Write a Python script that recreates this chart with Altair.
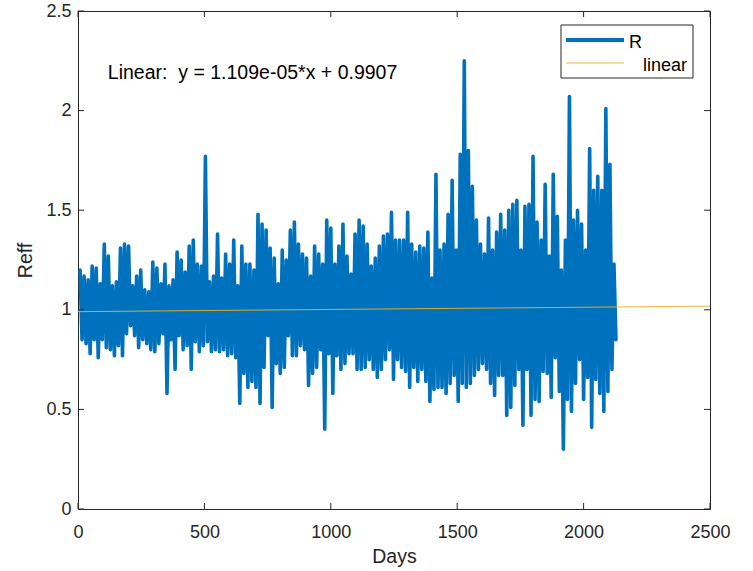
import altair as alt
import pandas as pd

# ---- data -------------------------------------------------------------
start_day = 8
step_days = 16
# local maxima (top of each ~16-day column) of R
peaks = [
    1.20, 1.17, 1.15, 1.22, 1.21, 1.13, 1.33, 1.27, 1.12, 1.14, 1.31, 1.33, 1.32, 1.12,
    1.17, 1.20, 1.10, 1.09, 1.24, 1.21, 1.13, 1.23, 1.12, 1.15, 1.29, 1.25, 1.19,
    1.32, 1.35, 1.23, 1.22, 1.77, 1.14, 1.17, 1.38, 1.16, 1.28, 1.23, 1.35, 1.12, 1.32,
    1.23, 1.23, 1.20, 1.48, 1.43, 1.40, 1.31, 1.26, 1.13, 1.30, 1.25, 1.40, 1.44,
    1.33, 1.28, 1.26, 1.17, 1.32, 1.28, 1.23, 1.45, 1.41, 1.23, 1.32, 1.43, 1.27, 1.18,
    1.38, 1.45, 1.42, 1.33, 1.22, 1.26, 1.32, 1.37, 1.38, 1.49, 1.35, 1.35,
    1.35, 1.49, 1.33, 1.29, 1.32, 1.31, 1.39, 1.16, 1.68, 1.30, 1.33, 1.48, 1.65, 1.30,
    1.78, 2.25, 1.80, 1.62, 1.45, 1.33, 1.28, 1.46, 1.30, 1.39, 1.48, 1.40, 1.50,
    1.53, 1.55, 1.30, 1.52, 1.53, 1.77, 1.44, 1.35, 1.63, 1.27, 1.68, 1.47, 1.20, 1.35,
    2.07, 1.45, 1.50, 1.43, 1.30, 1.81, 1.60, 1.67, 1.60, 2.01, 1.73, 1.23,
]
# local minima (bottom of each column) of R
troughs = [
    0.85, 0.83, 0.78, 0.85, 0.76, 0.85, 0.81, 0.80, 0.77, 0.82, 0.77, 0.88, 0.92, 0.87,
    0.81, 0.85, 0.83, 0.80, 0.79, 0.83, 0.88, 0.58, 0.85, 0.70, 0.87, 0.80, 0.82,
    0.70, 0.84, 0.79, 0.82, 0.84, 0.79, 0.80, 0.79, 0.80, 0.77, 0.78, 0.76, 0.53, 0.68,
    0.61, 0.64, 0.61, 0.53, 0.71, 0.87, 0.51, 0.73, 0.68, 0.71, 0.87, 0.77, 0.77,
    0.82, 0.80, 0.62, 0.68, 0.71, 0.80, 0.40, 0.78, 0.58, 0.77, 0.70, 0.73, 0.78, 0.78,
    0.70, 0.70, 0.71, 0.75, 0.70, 0.66, 0.70, 0.75, 0.80, 0.65, 0.75, 0.71,
    0.69, 0.61, 0.71, 0.64, 0.70, 0.64, 0.54, 0.60, 0.61, 0.61, 0.58, 0.63, 0.67, 0.54,
    0.63, 0.61, 0.63, 0.67, 0.70, 0.73, 0.70, 0.63, 0.57, 0.67, 0.67, 0.47, 0.51,
    0.62, 0.70, 0.42, 0.70, 0.47, 0.55, 0.54, 0.69, 0.68, 0.56, 0.76, 0.59, 0.30, 0.55,
    0.49, 0.63, 0.75, 0.55, 0.66, 0.41, 0.65, 0.58, 0.49, 0.59, 0.70, 0.85,
]

fit_days = [0, 2500]
fit_vals = [0.9907, 1.0184]  # y = 1.109e-05*x + 0.9907 at both ends

x_ticks = [0, 500, 1000, 1500, 2000, 2500]
y_ticks = [0, 0.5, 1, 1.5, 2, 2.5]

annotation_text = "Linear:\u00a0 y = 1.109e-05*x + 0.9907"
annotation_day = 118
annotation_val = 2.19

legend_labels = ["R", "linear"]

# ---- build tables --------------------------------------------------------
days, vals = [], []
for i, (p, t) in enumerate(zip(peaks, troughs)):
    d = start_day + step_days * i
    days += [d, d + step_days // 2]
    vals += [p, t]
series = pd.DataFrame({"day": days, "R": vals})
fit = pd.DataFrame({"day": fit_days, "R": fit_vals})
xt = pd.DataFrame({"t": x_ticks})
yt = pd.DataFrame({"t": y_ticks})
ann = pd.DataFrame({"day": [annotation_day], "R": [annotation_val], "txt": [annotation_text]})
one = pd.DataFrame({"k": [0]})

W, H = 632, 498
INK = "#262626"
BLUE = "#0072BD"
GOLD = "#EDB120"
FONT = "Liberation Sans"

xscale = alt.Scale(domain=[0, 2500], nice=False, zero=False)
yscale = alt.Scale(domain=[0, 2.5], nice=False, zero=False)

xaxis = alt.Axis(values=x_ticks, title="Days", ticks=False, domain=False, grid=False,
                 labelFlush=False, labelOverlap=False,
                 labelPadding=14, titlePadding=6, labelFontSize=18, titleFontSize=19.5,
                 labelColor=INK, titleColor=INK, labelFont=FONT, titleFont=FONT,
                 titleFontWeight="normal", format="d")
yaxis = alt.Axis(values=y_ticks, title="Reff", ticks=False, domain=False, grid=False,
                 labelFlush=False, labelOverlap=False,
                 labelPadding=7, titlePadding=10, labelFontSize=18, titleFontSize=19.5,
                 labelColor=INK, titleColor=INK, labelFont=FONT, titleFont=FONT,
                 titleFontWeight="normal", format="~g")

line = alt.Chart(series).mark_line(color=BLUE, strokeWidth=3.6, strokeJoin="round",
                                   strokeCap="round").encode(
    x=alt.X("day:Q", scale=xscale, axis=xaxis),
    y=alt.Y("R:Q", scale=yscale, axis=yaxis),
)
fitline = alt.Chart(fit).mark_line(color=GOLD, strokeWidth=0.9).encode(
    x=alt.X("day:Q", scale=xscale), y=alt.Y("R:Q", scale=yscale))

annot = alt.Chart(ann).mark_text(align="left", baseline="middle", fontSize=19.5, font=FONT,
                                 color="black").encode(
    x=alt.X("day:Q", scale=xscale), y=alt.Y("R:Q", scale=yscale), text="txt:N")

# inward ticks on all four sides
tb = alt.Chart(xt).mark_rule(color=INK, strokeWidth=1).encode(
    x=alt.X("t:Q", scale=xscale), y=alt.value(H), y2=alt.value(H - 6))
tt = alt.Chart(xt).mark_rule(color=INK, strokeWidth=1).encode(
    x=alt.X("t:Q", scale=xscale), y=alt.value(0), y2=alt.value(6))
tl = alt.Chart(yt).mark_rule(color=INK, strokeWidth=1).encode(
    y=alt.Y("t:Q", scale=yscale), x=alt.value(0), x2=alt.value(6))
tr = alt.Chart(yt).mark_rule(color=INK, strokeWidth=1).encode(
    y=alt.Y("t:Q", scale=yscale), x=alt.value(W), x2=alt.value(W - 6))

# legend box
leg_box = alt.Chart(one).mark_rect(fill="white", stroke=INK, strokeWidth=1).encode(
    x=alt.value(483), x2=alt.value(615), y=alt.value(14), y2=alt.value(67))
leg_r = alt.Chart(one).mark_rule(color=BLUE, strokeWidth=4).encode(
    x=alt.value(488), x2=alt.value(546), y=alt.value(29))
leg_l = alt.Chart(one).mark_rule(color=GOLD, strokeWidth=1.6, opacity=0.6).encode(
    x=alt.value(488), x2=alt.value(546), y=alt.value(52))
leg_rt = alt.Chart(one).mark_text(text=legend_labels[0], align="left", baseline="alphabetic",
                                  fontSize=18, font=FONT, color="black").encode(
    x=alt.value(551), y=alt.value(37))
leg_lt = alt.Chart(one).mark_text(text=legend_labels[1], align="left", baseline="alphabetic",
                                  fontSize=18, font=FONT, color="black").encode(
    x=alt.value(565), y=alt.value(60))

chart = alt.layer(line, fitline, annot, tb, tt, tl, tr,
                  leg_box, leg_r, leg_l, leg_rt, leg_lt).properties(
    width=W, height=H,
    autosize=alt.AutoSizeParams(type="none"),
    padding={"left": 78, "top": 11, "right": 753 - 78 - W, "bottom": 571 - 11 - H},
    background="white",
).configure_view(stroke=INK, strokeWidth=1)

chart.save("out.html", embed_options={"renderer": "svg", "actions": False})
